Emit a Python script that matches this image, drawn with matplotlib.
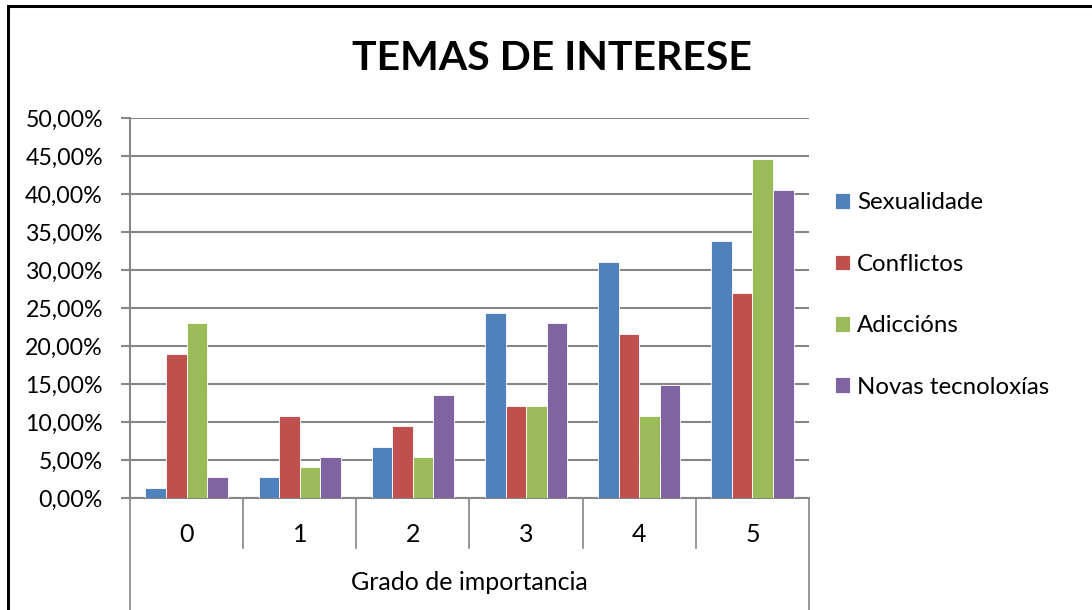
import matplotlib
matplotlib.use("Agg")
import matplotlib.pyplot as plt
from matplotlib.patches import Rectangle
from matplotlib.ticker import FuncFormatter, MultipleLocator
import numpy as np

plt.rcParams['font.family'] = ['Lato', 'DejaVu Sans']

title = "TEMAS DE INTERESE"
categories = ["0", "1", "2", "3", "4", "5"]
axis_title = "Grado de importancia"
series_names = ["Sexualidade", "Conflictos", "Adiccións", "Novas tecnoloxías"]
sexualidade = [1.35, 2.70, 6.76, 24.32, 31.08, 33.78]
conflictos = [18.92, 10.81, 9.46, 12.16, 21.62, 27.03]
adiccions = [22.97, 4.05, 5.41, 12.16, 10.81, 44.59]
novas = [2.70, 5.41, 13.51, 22.97, 14.86, 40.54]
colors = ["#4F81BD", "#C0504D", "#9BBB59", "#8064A2"]

W, H = 1092, 610
fig = plt.figure(figsize=(W / 100, H / 100), dpi=100)
fig.patch.set_facecolor("white")

left, right, top, bottom = 130, 809, 118, 498
ax = fig.add_axes([left / W, 1 - bottom / H, (right - left) / W, (bottom - top) / H])

data = [sexualidade, conflictos, adiccions, novas]
x = np.arange(len(categories))
bw = 1 / 5.5
for i, (vals, c, name) in enumerate(zip(data, colors, series_names)):
    ax.bar(x + (i - 1.5) * bw, vals, width=bw, color=c, edgecolor="white",
           linewidth=0.6, label=name, zorder=3)

ax.set_xlim(-0.5, len(categories) - 0.5)
ax.set_ylim(0, 50)
ax.yaxis.set_major_locator(MultipleLocator(5))
ax.yaxis.set_major_formatter(FuncFormatter(lambda v, p: f"{v:.2f}%".replace(".", ",")))
ax.grid(axis="y", color="#868686", linewidth=1.5, zorder=0)
ax.set_axisbelow(True)
for s in ["top", "right"]:
    ax.spines[s].set_visible(False)
for s in ["left", "bottom"]:
    ax.spines[s].set_color("#868686")
    ax.spines[s].set_linewidth(1.5)
ax.tick_params(axis="y", direction="out", length=6.5, width=1.5, color="#868686",
               labelsize=16.7, pad=13)
ax.tick_params(axis="x", length=0, labelbottom=False)

trans = ax.get_xaxis_transform()
ph = bottom - top
for k in range(len(categories) + 1):
    xs = k - 0.5
    if k == 0 or k == len(categories):
        y2 = -(H - bottom + 5) / ph
    else:
        y2 = -50 / ph
    ax.plot([xs, xs], [0, y2], color="#868686", lw=1.2, transform=trans, clip_on=False)
for xi, lab in zip(x, categories):
    ax.text(xi, -37 / ph, lab, transform=trans, ha="center", va="center", fontsize=18)
ax.text((len(categories) - 1) / 2, -85 / ph, axis_title, transform=trans,
        ha="center", va="center", fontsize=18)

fig.text(552 / W, 1 - 59 / H, title, ha="center", va="center", fontsize=29.5,
         fontweight="bold")

leg = ax.legend(loc="center left", bbox_to_anchor=(835 / W, 1 - 295 / H),
                bbox_transform=fig.transFigure, frameon=False, fontsize=17.3,
                handlelength=0.62, handleheight=0.62, handletextpad=0.3,
                labelspacing=1.68, borderaxespad=0, borderpad=0)

fig.add_artist(Rectangle((8 / W, -0.05), 1.2, 1.05 - 6 / H,
                         transform=fig.transFigure, fill=False, edgecolor="black",
                         linewidth=2.2))

fig.savefig("out.png", dpi=100)
